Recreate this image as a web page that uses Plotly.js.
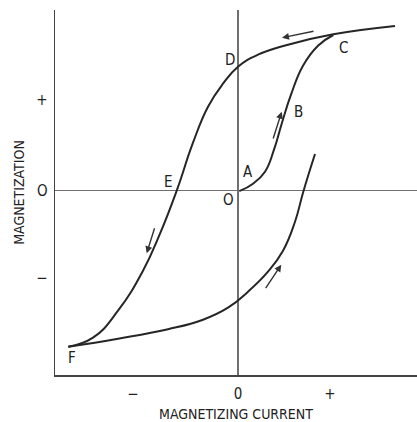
<!DOCTYPE html>
<html><head><meta charset="utf-8">
<script src="https://cdn.plot.ly/plotly-3.0.1.min.js"></script>
<style>html,body{margin:0;padding:0;background:#fff;}</style>
</head><body><div id="chart" style="width:417px;height:422px;"></div>
<script>
// Main loop, upper (descending) branch: F -> E -> D -> C -> saturation
const upperX = [-1.697,-1.45,-1.2,-0.95,-0.78,-0.613,-0.45,-0.3,-0.15,0.0,0.2,0.5,0.953,1.57];
const upperY = [-1.56,-1.47,-1.2,-0.8,-0.43,0,0.48,0.84,1.07,1.24,1.36,1.46,1.564,1.647];
// Main loop, lower (ascending) branch: F -> zero crossing -> end
const lowerX = [-1.697,-1.2,-0.7,-0.35,-0.1,0.1,0.3,0.45,0.57,0.653,0.77];
const lowerY = [-1.56,-1.48,-1.385,-1.29,-1.17,-1.01,-0.81,-0.6,-0.31,-0.01,0.367];
// Initial magnetization curve O -> A -> B -> C
const initX = [0.013,0.15,0.27,0.36,0.44,0.53,0.65,0.8,0.953];
const initY = [-0.005,0.07,0.19,0.41,0.68,0.96,1.25,1.45,1.557];

// Point labels
const ptLabels = ['D','E','O','A','B','C','F'];
const ptX = [-0.08,-0.70,-0.10,0.10,0.60,1.05,-1.66];
const ptY = [1.307,0.087,-0.093,0.187,0.787,1.427,-1.673];

// Direction arrows: tail -> head
const arrTailX = [0.77,0.347,-0.83,0.267];
const arrTailY = [1.597,0.507,-0.36,-0.99];
const arrHeadX = [0.44,0.437,-0.913,0.433];
const arrHeadY = [1.53,0.79,-0.626,-0.74];

// Tick labels
const xTickVals = [-1.05,0,0.92];
const xTickText = ['\u2212','0','+'];
const yTickVals = [0.907,0,-0.873];
const yTickText = ['+','O','\u2212'];

const FONT = 'DejaVu Sans Condensed, DejaVu Sans, sans-serif';
const lineStyle = {color:'#262626', width:2, shape:'spline', smoothing:1.3};

const traces = [
  {x:upperX, y:upperY, mode:'lines', line:lineStyle, hoverinfo:'skip'},
  {x:lowerX, y:lowerY, mode:'lines', line:lineStyle, hoverinfo:'skip'},
  {x:initX, y:initY, mode:'lines', line:lineStyle, hoverinfo:'skip'}
];

const annotations = [];
ptLabels.forEach((t,i)=>annotations.push({x:ptX[i], y:ptY[i], text:t, showarrow:false,
  font:{family:FONT, size:15, color:'#222'}}));
arrTailX.forEach((_,i)=>annotations.push({x:arrHeadX[i], y:arrHeadY[i], ax:arrTailX[i], ay:arrTailY[i],
  axref:'x', ayref:'y', xref:'x', yref:'y', text:'', showarrow:true, arrowhead:2, arrowsize:1,
  arrowwidth:1.4, arrowcolor:'#333'}));

const layout = {
  width:417, height:422,
  margin:{l:55, r:0, t:10, b:47},
  paper_bgcolor:'#fff', plot_bgcolor:'#fff',
  showlegend:false,
  font:{family:FONT, color:'#222', size:15},
  xaxis:{range:[-1.83,1.79], showgrid:false, zeroline:true, zerolinecolor:'#707070', zerolinewidth:1.1,
    showline:true, linecolor:'#444', linewidth:1.5, mirror:false,
    tickmode:'array', tickvals:xTickVals, ticktext:xTickText, ticks:'outside', ticklen:4, tickcolor:'rgba(0,0,0,0)',
    tickfont:{family:FONT, size:15, color:'#222'},
    title:{text:'MAGNETIZING CURRENT', font:{family:FONT, size:14, color:'#222'}, standoff:8},
    fixedrange:true, automargin:false},
  yaxis:{range:[-1.843,1.807], showgrid:false, zeroline:true, zerolinecolor:'#707070', zerolinewidth:1.1,
    showline:true, linecolor:'#444', linewidth:1.5, mirror:false,
    tickmode:'array', tickvals:yTickVals, ticktext:yTickText, ticks:'outside', ticklen:3, tickcolor:'rgba(0,0,0,0)',
    tickfont:{family:FONT, size:15, color:'#222'},
    title:{text:'MAGNETIZATION', font:{family:FONT, size:14, color:'#222'}, standoff:8},
    fixedrange:true, automargin:false},
  annotations:annotations
};
Plotly.newPlot('chart', traces, layout, {displayModeBar:false, staticPlot:true});
</script></body></html>
